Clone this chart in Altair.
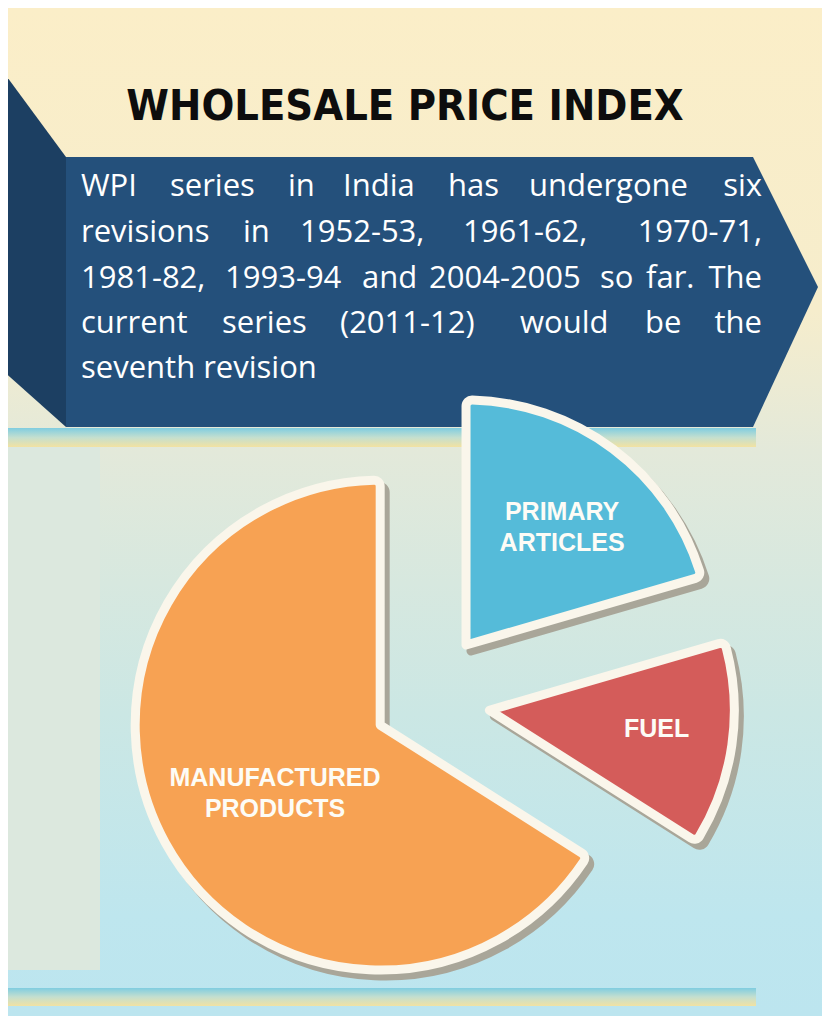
import math
import altair as alt
import pandas as pd

# ---------------- data ----------------
TITLE = "WHOLESALE PRICE INDEX"
CATEGORIES = ["Primary Articles", "Fuel", "Manufactured Products"]
SHARES = [20.5, 13.5, 66.0]          # share of the pie (%)
LABELS = ["PRIMARY\nARTICLES", "FUEL", "MANUFACTURED\nPRODUCTS"]

TEXT_LINES = [
    ["WPI", "series", "in", "India", "has", "undergone", "six"],
    ["revisions", "in", "1952-53,", "1961-62,", "1970-71,"],
    ["1981-82,", "1993-94", "and", "2004-2005", "so", "far.", "The"],
    ["current", "series", "(2011-12)", "would", "be", "the"],
    ["seventh revision"],
]
JUSTIFIED = [True, True, True, True, False]

# ---------------- layout / style ----------------
W, H = 814, 1008          # chart size; page margin 8px -> reference coords 8..822, 8..1016
XS = alt.Scale(domain=[8, 822], nice=False, zero=False)
YS = alt.Scale(domain=[8, 1016], nice=False, zero=False, reverse=True)

WORD_X = [
    [81, 170, 288, 343, 448, 529, 762],
    [81, 243, 300, 463, 762],
    [81, 225, 362, 429, 600, 646, 762],
    [81, 222, 340, 520, 645, 762],
    [81],
]
LINE_Y = [196, 242, 288, 333, 378]

PIE_CX, PIE_CY, PIE_R = 424, 701, 245
EXPLODE = {"Primary Articles": 70, "Fuel": 66, "Manufactured Products": 50}
LABEL_R = {"Primary Articles": 160, "Fuel": 169, "Manufactured Products": 120}
COLORS = ["#55bbd9", "#d45c5a", "#f7a253"]

BG_STOPS = [(0.0, "#fbeec8"), (0.3, "#f6edcc"), (0.44, "#e3e9da"),
            (0.7, "#cbe7e4"), (0.9, "#bee6ee"), (1.0, "#bce5ef")]
STRIPE_STOPS = [(0.0, "#80cde0"), (0.5, "#c4dfcf"), (1.0, "#f2e2a2")]


def grad(stops):
    return alt.Gradient(
        gradient="linear", x1=0, x2=0, y1=0, y2=1,
        stops=[alt.GradientStop(offset=o, color=c) for o, c in stops],
    )


def box(x0, x1, y0, y1):
    return pd.DataFrame({"x0": [x0], "x1": [x1], "y0": [y0], "y1": [y1]})


def rect_layer(df, **mark):
    return alt.Chart(df).mark_rect(**mark).encode(
        x=alt.X("x0:Q", scale=XS, axis=None), x2="x1:Q",
        y=alt.Y("y0:Q", scale=YS, axis=None), y2="y1:Q",
    )


background = rect_layer(box(8, 822, 8, 1016), fill=grad(BG_STOPS))
left_panel = rect_layer(box(2, 100, 447, 970), fill="#dce8de")
stripe_top = rect_layer(box(2, 756, 428, 447), fill=grad(STRIPE_STOPS))
stripe_bot = rect_layer(box(2, 756, 988, 1006), fill=grad(STRIPE_STOPS))

banner_df = pd.DataFrame({"x": [66, 753, 818], "top": [157, 157, 287], "bot": [427, 427, 287]})
side_df = pd.DataFrame({"x": [2, 66], "top": [70, 157], "bot": [370, 427]})


def area_layer(df, color):
    return alt.Chart(df).mark_area(color=color, interpolate="linear").encode(
        x=alt.X("x:Q", scale=XS, axis=None),
        y=alt.Y("top:Q", scale=YS, axis=None), y2="bot:Q",
    )


banner = area_layer(banner_df, "#24507b")
side = area_layer(side_df, "#1c3f62")

title = alt.Chart(pd.DataFrame({"t": [TITLE], "x": [405], "y": [120]})).mark_text(
    font="DejaVu Sans Condensed, sans-serif",
    fontSize=43, fontWeight="bold", color="#0d0d0d", align="center", baseline="alphabetic",
).encode(x=alt.X("x:Q", scale=XS, axis=None), y=alt.Y("y:Q", scale=YS, axis=None), text="t:N")

# body words
rows = []
for li, words in enumerate(TEXT_LINES):
    for wi, w in enumerate(words):
        right = JUSTIFIED[li] and wi == len(words) - 1 and len(words) > 1
        rows.append({"w": w, "x": WORD_X[li][wi], "y": LINE_Y[li], "right": right})
words_df = pd.DataFrame(rows)


def words_layer(df, align):
    return alt.Chart(df).mark_text(
        font="Open Sans", fontSize=31, color="#ffffff", align=align, baseline="alphabetic",
    ).encode(x=alt.X("x:Q", scale=XS, axis=None), y=alt.Y("y:Q", scale=YS, axis=None), text="w:N")


words_left = words_layer(words_df[~words_df["right"]], "left")
words_right = words_layer(words_df[words_df["right"]], "right")

# pie
total = sum(SHARES)
pie_df = pd.DataFrame({
    "category": CATEGORIES,
    "share": SHARES,
    "label": LABELS,
    "order": list(range(len(CATEGORIES))),
    "explode": [EXPLODE[c] for c in CATEGORIES],
    "label_r": [LABEL_R[c] for c in CATEGORIES],
})
TS = alt.Scale(domain=[0, total], range=[0, 2 * math.pi])

pie_base = alt.Chart(pie_df).transform_window(
    cum="sum(share)", sort=[alt.SortField("order")], frame=[None, 0]
).transform_calculate(
    a0="datum.cum - datum.share",
    mid=f"(datum.cum - datum.share / 2) / {total} * 2 * PI",
).transform_calculate(
    cx=f"{PIE_CX} + datum.explode * sin(datum.mid)",
    cy=f"{PIE_CY} - datum.explode * cos(datum.mid)",
).transform_calculate(
    lx="datum.cx + datum.label_r * sin(datum.mid)",
    ly="datum.cy - datum.label_r * cos(datum.mid)",
)

arc_enc = dict(
    x=alt.X("cx:Q", scale=XS, axis=None),
    y=alt.Y("cy:Q", scale=YS, axis=None),
    theta=alt.Theta("a0:Q", scale=TS, stack=False),
    theta2="cum:Q",
)

shadow = pie_base.mark_arc(
    outerRadius=PIE_R, cornerRadius=6, fill="#a9a699", stroke="#a9a699",
    strokeWidth=9, strokeJoin="round", xOffset=5, yOffset=6,
).encode(**arc_enc)

slices = pie_base.mark_arc(
    outerRadius=PIE_R, cornerRadius=6, stroke="#faf6eb", strokeWidth=9, strokeJoin="round",
).encode(
    color=alt.Color("category:N", scale=alt.Scale(domain=CATEGORIES, range=COLORS), legend=None),
    **arc_enc,
)

labels = pie_base.mark_text(
    font="Liberation Sans, Arial, sans-serif", fontSize=25, fontWeight="bold",
    color="#fdfcf6", align="center", baseline="middle", lineBreak="\n", lineHeight=31, dy=-5,
).encode(
    x=alt.X("lx:Q", scale=XS, axis=None),
    y=alt.Y("ly:Q", scale=YS, axis=None),
    text="label:N",
)

chart = alt.layer(
    background, left_panel, stripe_top, stripe_bot, side, banner, title,
    words_left, words_right, shadow, slices, labels,
).properties(
    width=W, height=H, padding=0, autosize=alt.AutoSizeParams(type="none"),
).configure_view(strokeWidth=0)

chart.save("out.html", embed_options={"renderer": "svg", "actions": False})
